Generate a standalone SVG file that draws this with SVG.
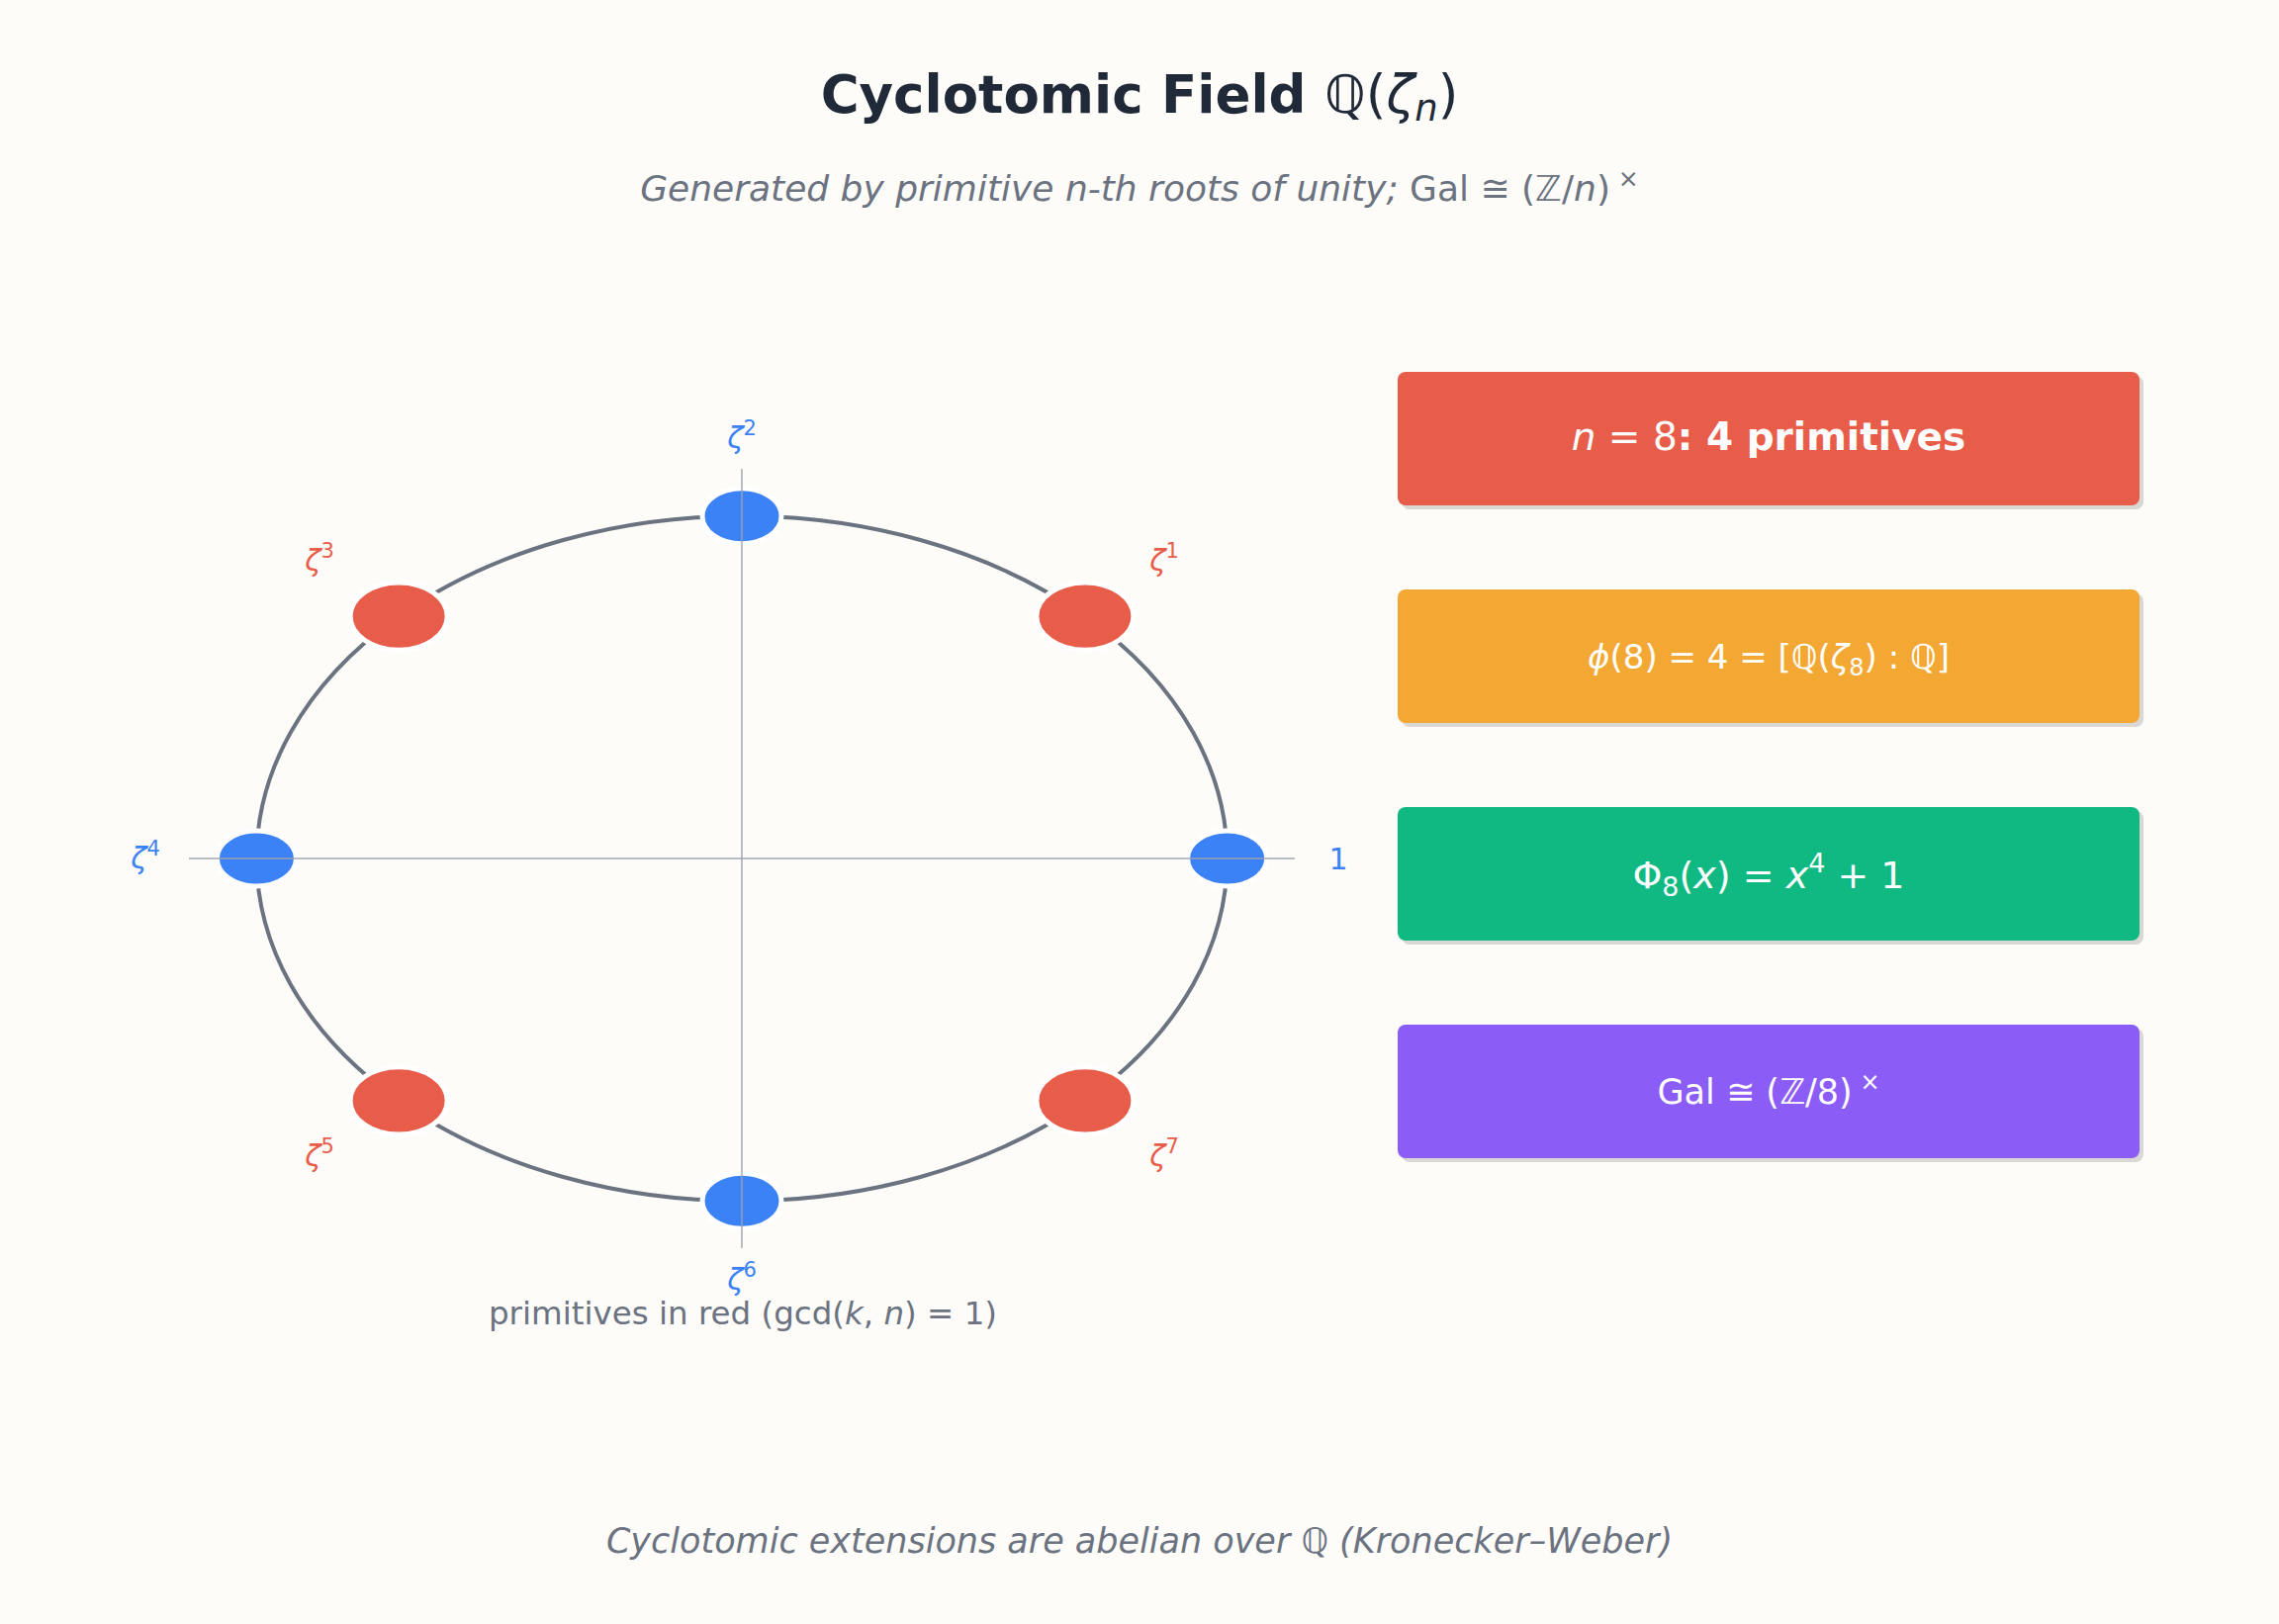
<svg xmlns="http://www.w3.org/2000/svg" width="2304" height="1642" viewBox="0 0 2304 1642">
<style>
text{font-family:"DejaVu Sans","Liberation Sans",sans-serif}
.title{font-size:53px;fill:#1f2937;text-anchor:middle}
.sub{fill:#6b7280;text-anchor:middle}
.it{font-style:italic}
.up{font-style:normal}
.bold{font-weight:bold}
.lbl{font-size:30px;text-anchor:middle}
.blue{fill:#3b82f6}
.red{fill:#e85d4a}
.nb{fill:#3b82f6;stroke:#ffffff;stroke-width:5}
.nr{fill:#e85d4a;stroke:#ffffff;stroke-width:5}
.axis{stroke:#9ca3af;stroke-width:2;stroke-opacity:0.7}
.ring{fill:none;stroke:#6b7280;stroke-width:4}
.shadow{fill:#000000;fill-opacity:0.14}
.btxt{fill:#ffffff;text-anchor:middle}
</style>
<rect x="0" y="0" width="2304" height="1642" fill="#fdfcf9"/>

<text class="title" x="1152" y="114"><tspan class="bold">Cyclotomic Field </tspan><tspan>ℚ(</tspan><tspan class="it">ζ</tspan><tspan class="it" font-size="37" dy="8">n</tspan><tspan dy="-8">)</tspan></text>
<text class="sub" x="1152" y="203" font-size="36"><tspan class="it">Generated by primitive n-th roots of unity; </tspan><tspan>Gal ≅ (ℤ/</tspan><tspan class="it">n</tspan><tspan>)</tspan><tspan font-size="25" dy="-14"> ×</tspan></text>

<g id="connectors">
<ellipse class="ring" cx="750" cy="868" rx="490.6" ry="346.3"/>
</g>

<g id="node-1"><ellipse class="nb" cx="1240.6" cy="868" rx="40" ry="28"/><text class="lbl blue" x="1353" y="879">1</text></g>
<g id="node-zeta1"><ellipse class="nr" cx="1096.9" cy="623.1" rx="49" ry="34.2"/><text class="lbl red" x="1177" y="577"><tspan class="it">ζ</tspan><tspan font-size="21" dy="-13">1</tspan></text></g>
<g id="node-zeta2"><ellipse class="nb" cx="750" cy="521.7" rx="40" ry="28"/><text class="lbl blue" x="750" y="453"><tspan class="it">ζ</tspan><tspan font-size="21" dy="-13">2</tspan></text></g>
<g id="node-zeta3"><ellipse class="nr" cx="403.1" cy="623.1" rx="49" ry="34.2"/><text class="lbl red" x="323" y="577"><tspan class="it">ζ</tspan><tspan font-size="21" dy="-13">3</tspan></text></g>
<g id="node-zeta4"><ellipse class="nb" cx="259.4" cy="868" rx="40" ry="28"/><text class="lbl blue" x="147" y="878"><tspan class="it">ζ</tspan><tspan font-size="21" dy="-13">4</tspan></text></g>
<g id="node-zeta5"><ellipse class="nr" cx="403.1" cy="1112.9" rx="49" ry="34.2"/><text class="lbl red" x="323" y="1179"><tspan class="it">ζ</tspan><tspan font-size="21" dy="-13">5</tspan></text></g>
<g id="node-zeta6"><ellipse class="nb" cx="750" cy="1214.3" rx="40" ry="28"/><text class="lbl blue" x="750" y="1304"><tspan class="it">ζ</tspan><tspan font-size="21" dy="-13">6</tspan></text></g>
<g id="node-zeta7"><ellipse class="nr" cx="1096.9" cy="1112.9" rx="49" ry="34.2"/><text class="lbl red" x="1177" y="1179"><tspan class="it">ζ</tspan><tspan font-size="21" dy="-13">7</tspan></text></g>

<g id="axes">
<line class="axis" x1="191" y1="868" x2="1309" y2="868"/>
<line class="axis" x1="750" y1="474" x2="750" y2="1262"/>
</g>

<text class="sub" x="751" y="1339" font-size="32.5">primitives in red (gcd(<tspan class="it">k</tspan>, <tspan class="it">n</tspan>) = 1)</text>

<g id="box-primitives">
<rect class="shadow" x="1417" y="380" width="750" height="135" rx="8"/>
<rect x="1413" y="376" width="750" height="135" rx="8" fill="#e85d4a"/>
<text class="btxt" x="1788" y="455" font-size="39"><tspan class="it">n</tspan> = 8<tspan class="bold">: 4 primitives</tspan></text>
</g>
<g id="box-degree">
<rect class="shadow" x="1417" y="600" width="750" height="135" rx="8"/>
<rect x="1413" y="596" width="750" height="135" rx="8" fill="#f4a834"/>
<text class="btxt" x="1788" y="676" font-size="34"><tspan class="it">ϕ</tspan>(8) = 4 = [ℚ(<tspan class="it">ζ</tspan><tspan font-size="24" dy="7">8</tspan><tspan dy="-7">) : ℚ]</tspan></text>
</g>
<g id="box-polynomial">
<rect class="shadow" x="1417" y="820" width="750" height="135" rx="8"/>
<rect x="1413" y="816" width="750" height="135" rx="8" fill="#10b981"/>
<text class="btxt" x="1788" y="898" font-size="38">Φ<tspan font-size="27" dy="8">8</tspan><tspan dy="-8">(</tspan><tspan class="it">x</tspan>) = <tspan class="it">x</tspan><tspan font-size="27" dy="-16">4</tspan><tspan dy="16"> + 1</tspan></text>
</g>
<g id="box-galois">
<rect class="shadow" x="1417" y="1040" width="750" height="135" rx="8"/>
<rect x="1413" y="1036" width="750" height="135" rx="8" fill="#8b5cf6"/>
<text class="btxt" x="1788" y="1116" font-size="35">Gal ≅ (ℤ/8)<tspan font-size="24" dy="-14"> ×</tspan></text>
</g>

<text class="sub it" x="1152" y="1570" font-size="35">Cyclotomic extensions are abelian over <tspan class="up">ℚ</tspan> (Kronecker–Weber)</text>
</svg>
